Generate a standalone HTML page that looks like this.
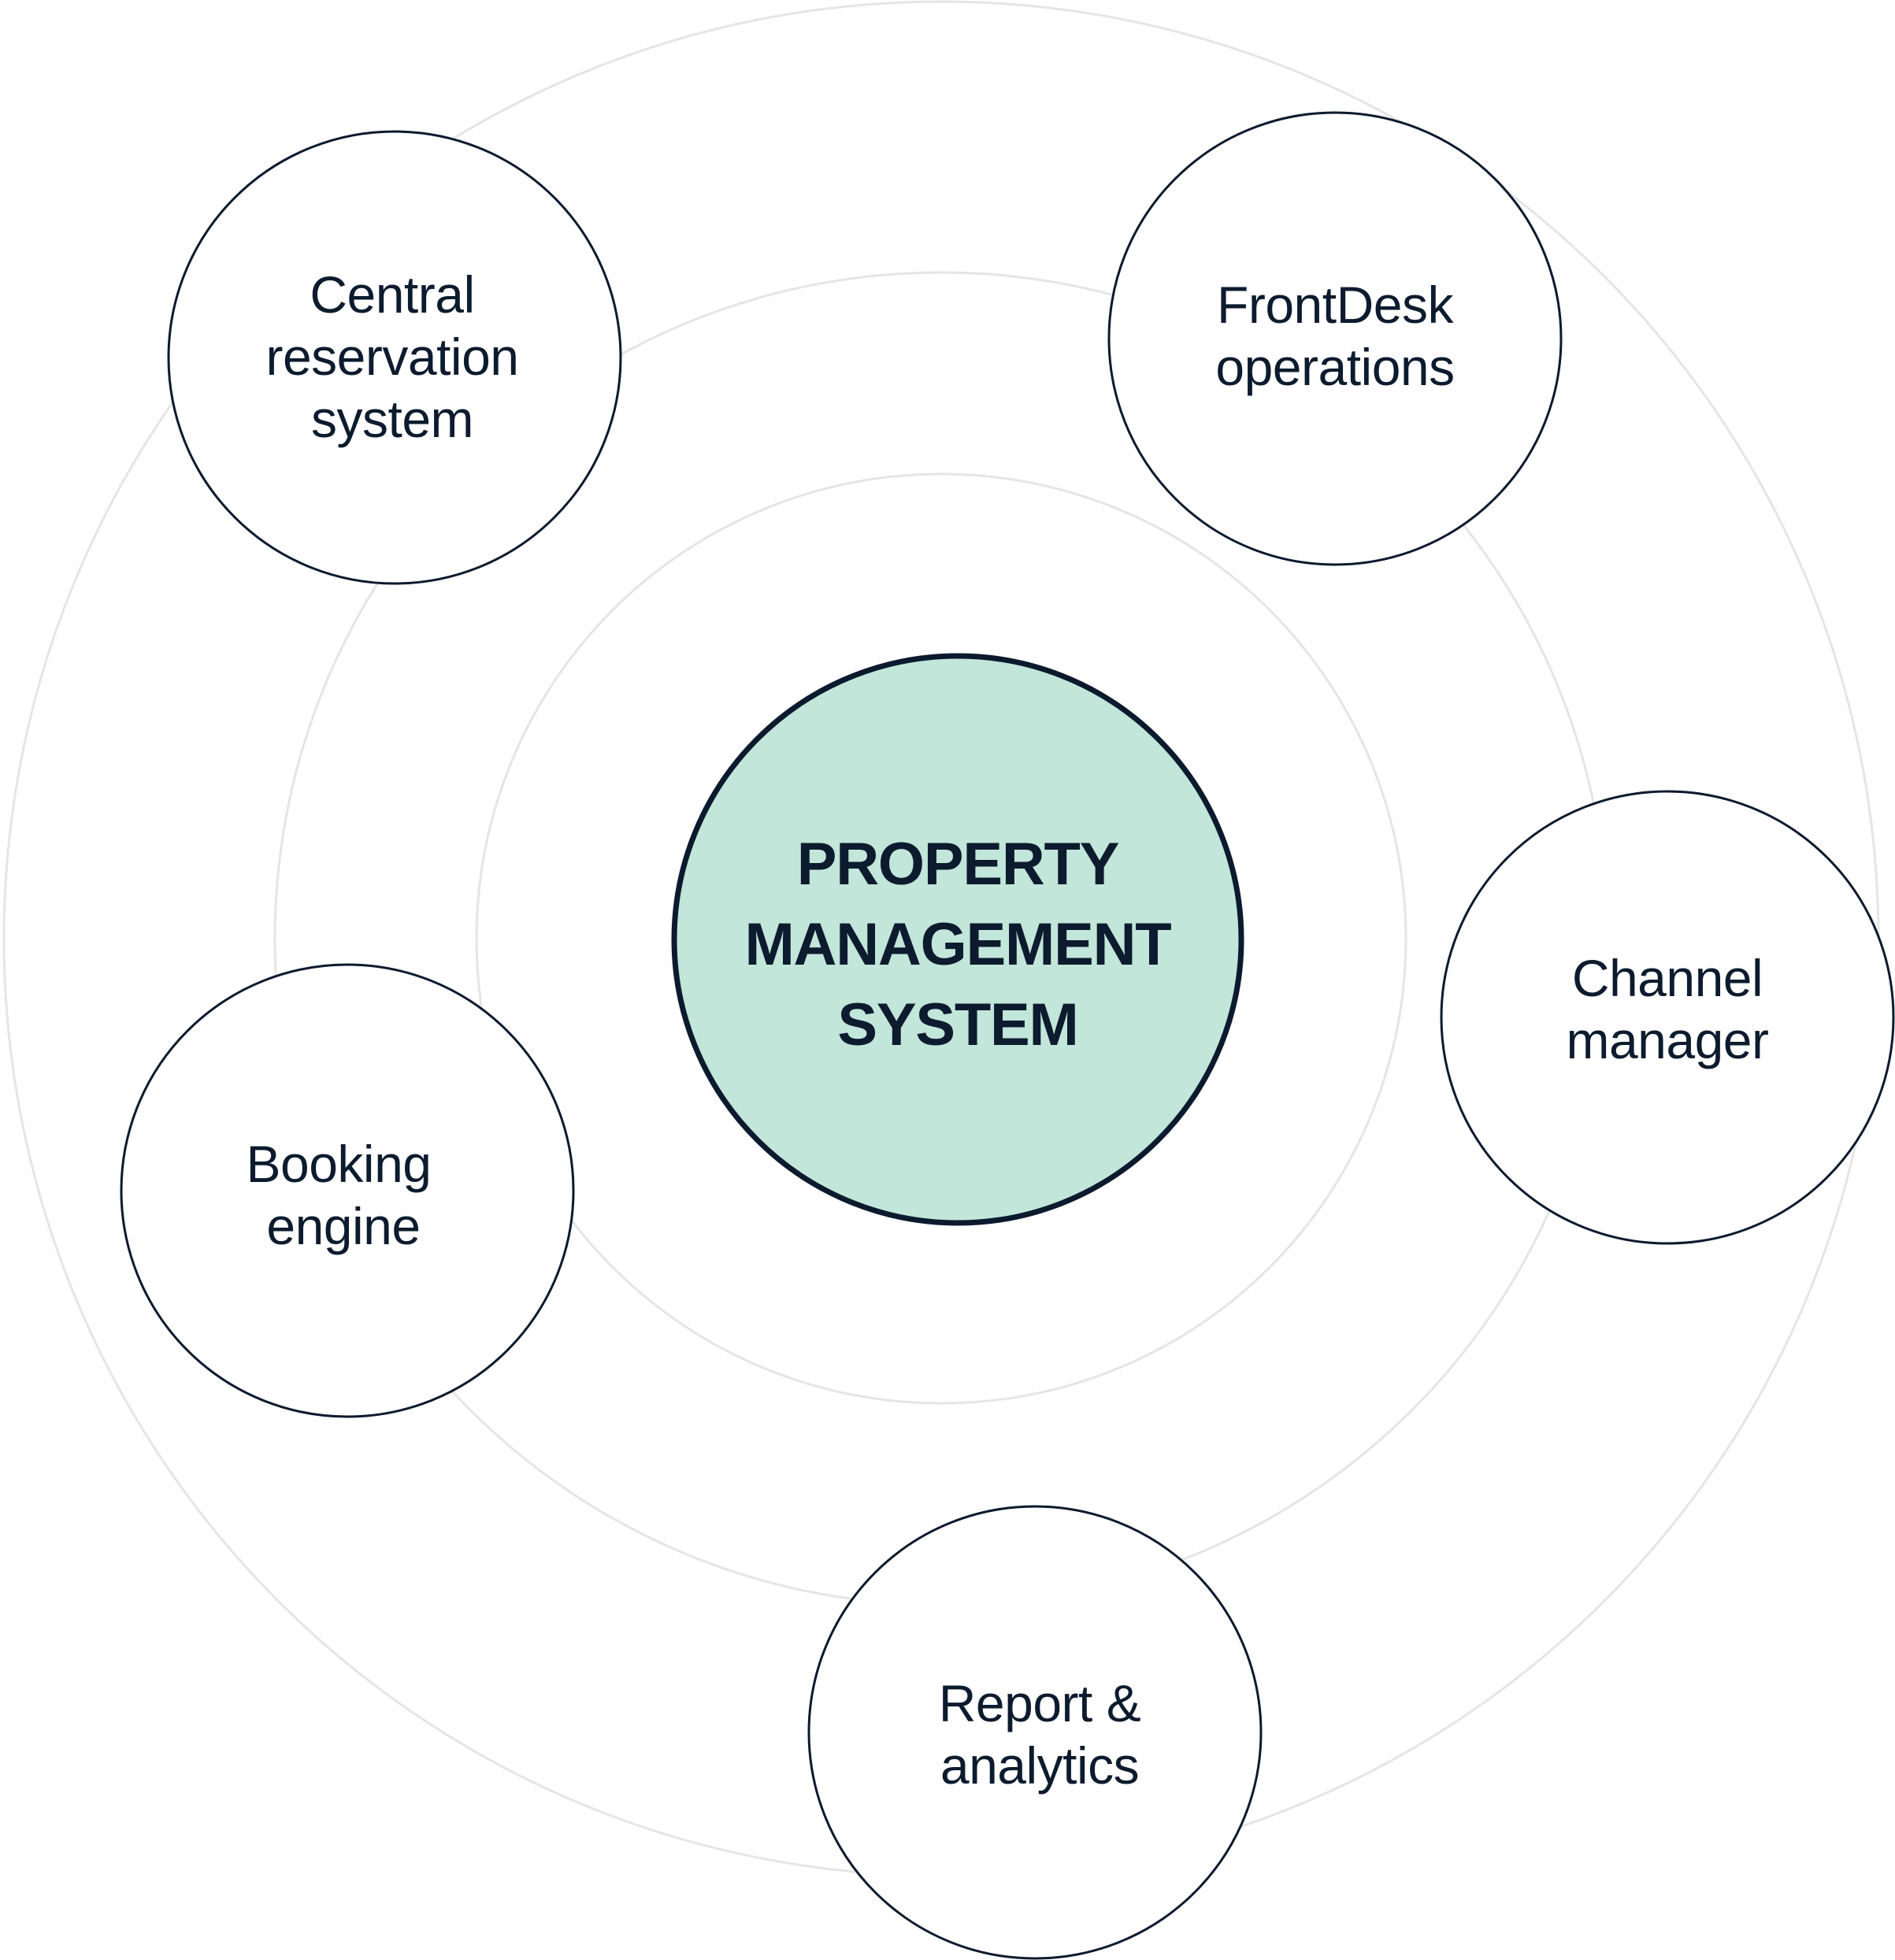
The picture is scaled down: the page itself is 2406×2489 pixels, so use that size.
<!DOCTYPE html>
<html><head><meta charset="utf-8"><style>
html,body{margin:0;padding:0;background:#fff;}
svg{display:block}
text{font-family:"Liberation Sans",sans-serif;fill:#0d1b2e;text-anchor:middle}
</style></head><body>
<svg width="2406" height="2489" viewBox="0 0 2406 2489" xmlns="http://www.w3.org/2000/svg">
<g fill="none" stroke="#e5e5e5" stroke-width="3">
<circle cx="1195" cy="1192" r="1190"/>
<circle cx="1195" cy="1192" r="846"/>
<circle cx="1195" cy="1192" r="590"/>
</g>
<circle cx="1216" cy="1193" r="360" fill="#c2e6da" stroke="#0c1a2e" stroke-width="7"/>
<g font-size="76" font-weight="bold" letter-spacing="-1.2">
<text x="1216" y="1123">PROPERTY</text>
<text x="1216" y="1225">MANAGEMENT</text>
<text x="1216" y="1327">SYSTEM</text>
</g>
<g fill="#fff" stroke="#0c1a2e" stroke-width="3">
<circle cx="501" cy="454" r="287"/>
<circle cx="1695" cy="430" r="287"/>
<circle cx="2117" cy="1292" r="287"/>
<circle cx="441" cy="1512" r="287"/>
<circle cx="1314" cy="2200" r="287"/>
</g>
<g font-size="66" letter-spacing="-0.5">
<text x="498" y="397">Central</text>
<text x="498" y="476">reservation</text>
<text x="498" y="555">system</text>
<text x="1695" y="410">FrontDesk</text>
<text x="1695" y="489">operations</text>
<text x="2117" y="1265">Channel</text>
<text x="2117" y="1344">manager</text>
<text x="430" y="1501">Booking</text>
<text x="436" y="1580">engine</text>
<text x="1320" y="2186">Report &amp;</text>
<text x="1320" y="2265">analytics</text>
</g>
</svg>
</body></html>
